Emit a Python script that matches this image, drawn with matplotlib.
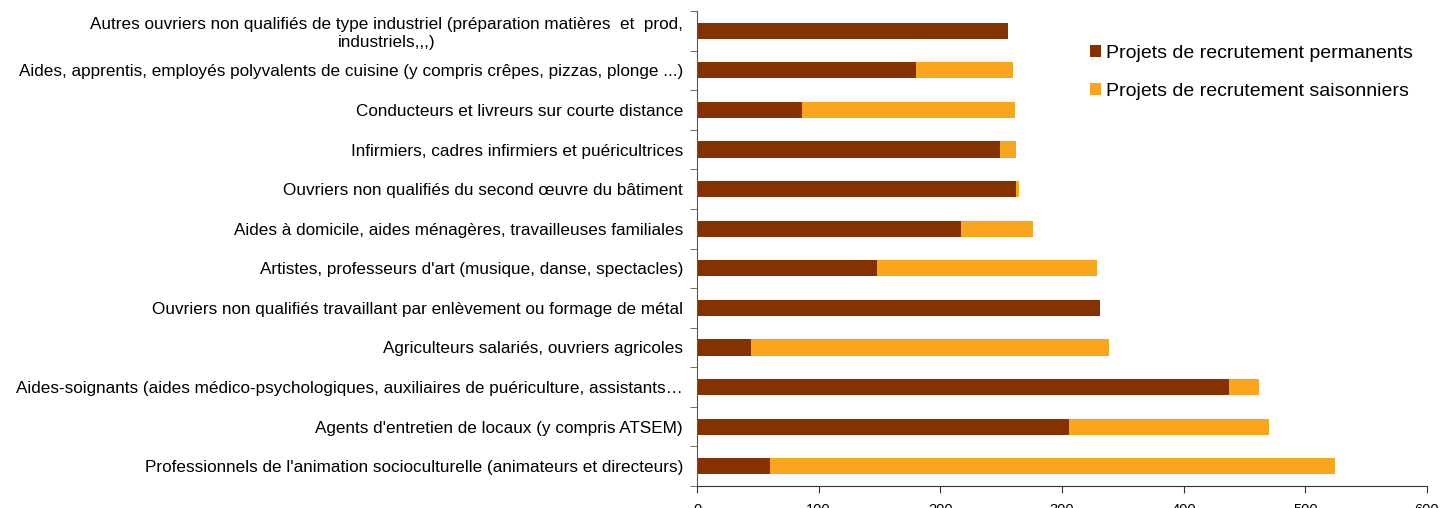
import matplotlib.pyplot as plt
import numpy as np

plt.rcParams['font.family'] = ['Liberation Sans', 'DejaVu Sans']

# categories, top to bottom as in the chart
metiers = [
    "Autres ouvriers non qualifiés de type industriel (préparation matières  et  prod,\nindustriels,,,)",
    "Aides, apprentis, employés polyvalents de cuisine (y compris crêpes, pizzas, plonge ...)",
    "Conducteurs et livreurs sur courte distance",
    "Infirmiers, cadres infirmiers et puéricultrices",
    "Ouvriers non qualifiés du second œuvre du bâtiment",
    "Aides à domicile, aides ménagères, travailleuses familiales",
    "Artistes, professeurs d'art (musique, danse, spectacles)",
    "Ouvriers non qualifiés travaillant par enlèvement ou formage de métal",
    "Agriculteurs salariés, ouvriers agricoles",
    "Aides-soignants (aides médico-psychologiques, auxiliaires de puériculture, assistants…",
    "Agents d'entretien de locaux (y compris ATSEM)",
    "Professionnels de l'animation socioculturelle (animateurs et directeurs)",
]
permanents = [256, 180, 86, 249, 262, 217, 148, 331, 44, 437, 306, 60]
saisonniers = [0, 80, 175, 13, 3, 59, 181, 0, 295, 25, 164, 464]

brun = '#843300'
orange = '#F9A61E'

fig = plt.figure(figsize=(14.41, 5.08), dpi=100)
ax = fig.add_axes([697/1441, 1 - 486/508, 730/1441, 475/508])

y = np.arange(len(metiers))
ax.barh(y, permanents, height=0.41, color=brun, label='Projets de recrutement permanents')
ax.barh(y, saisonniers, left=permanents, height=0.41, color=orange,
        label='Projets de recrutement saisonniers')

ax.set_ylim(len(metiers) - 0.5, -0.5)
ax.set_xlim(0, 600)
ax.set_xticks(range(0, 601, 100))
ax.set_yticks(y)
ax.set_yticklabels(metiers, fontsize=12.3)
ax.get_yticklabels()[0].set_multialignment('center')
ax.set_yticks(np.arange(-0.5, len(metiers), 1), minor=True)
ax.tick_params(axis='y', which='major', length=0, pad=10)
ax.tick_params(axis='y', which='minor', length=5, color='#555555')
ax.tick_params(axis='x', length=5, labelsize=10.5, pad=7, color='#333333')

for s in ['top', 'right']:
    ax.spines[s].set_visible(False)
ax.spines['left'].set_color('#555555')
ax.spines['bottom'].set_color('#333333')

ax.legend(loc='upper left', bbox_to_anchor=(0.515, 0.965), frameon=False,
          fontsize=14, handlelength=0.55, handleheight=0.55, handletextpad=0.25,
          labelspacing=1.05)

fig.savefig('out.png', dpi=100)
